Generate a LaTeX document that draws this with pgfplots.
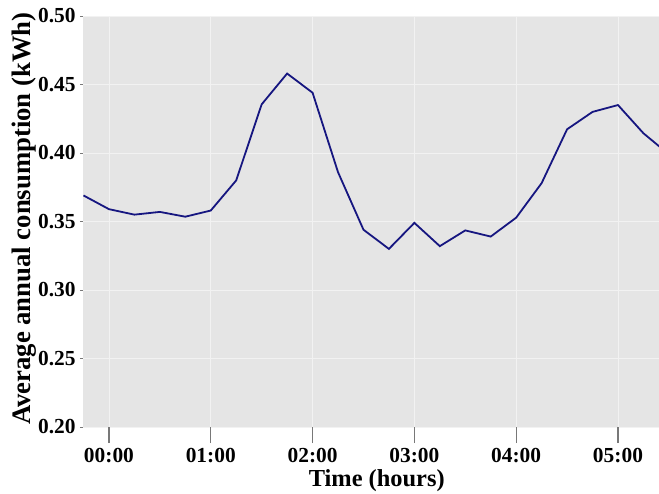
\documentclass[border=0pt]{standalone}
\usepackage{fontspec}
\setmainfont{Liberation Serif}
\usepackage{pgfplots}
\pgfplotsset{compat=1.18}
\definecolor{bg}{RGB}{229,229,229}
\definecolor{gridc}{RGB}{242,242,242}
\definecolor{navyline}{RGB}{22,22,128}
\definecolor{tickgray}{RGB}{120,120,120}
\begin{document}
\begin{tikzpicture}
\begin{axis}[
  name=ax,
  scale only axis,
  width=576bp, height=411bp,
  xmin=-0.255, xmax=5.403,
  ymin=0.20, ymax=0.50,
  axis background/.style={fill=bg},
  axis x line*=bottom, axis y line*=left,
  axis line style={draw=none},
  tick align=outside,
  xtick={0,1,2,3,4,5},
  xticklabels={00:00,01:00,02:00,03:00,04:00,05:00},
  ytick={0.20,0.25,0.30,0.35,0.40,0.45,0.50},
  yticklabel={\pgfmathprintnumber[fixed,fixed zerofill,precision=2]{\tick}},
  /pgf/number format/assume math mode=true,
  xtick style={draw=tickgray, line width=1.2bp, /pgfplots/major tick length=16bp},
  ytick style={draw=tickgray, line width=0.8bp, /pgfplots/major tick length=3bp},
  minor tick num=0,
  grid=major,
  major grid style={draw=gridc, line width=0.6bp},
  xticklabel style={font=\fontsize{21.5}{24}\selectfont\bfseries, inner sep=0pt, anchor=north, yshift=-17bp},
  yticklabel style={font=\fontsize{21.5}{24}\selectfont\bfseries, inner sep=0pt, anchor=east, xshift=-3bp},
  xlabel={Time (hours)},
  ylabel={Average annual consumption (kWh)},
  xlabel style={font=\fontsize{24.5}{28}\selectfont\bfseries, inner sep=0pt, at={(axis description cs:0.51,-0.104)}, anchor=north},
  ylabel style={font=\fontsize{26.8}{30}\selectfont\bfseries, inner sep=0pt, at={(axis description cs:-0.0799,0.507)}, anchor=south, rotate=0},
]
\addplot[color=navyline, line width=1.8bp] coordinates {
(-0.25,0.369) (0,0.359) (0.25,0.355) (0.5,0.357) (0.75,0.3535)
(1,0.358) (1.25,0.380) (1.5,0.4355) (1.75,0.458) (2,0.444)
(2.25,0.386) (2.5,0.344) (2.75,0.330) (3,0.349) (3.25,0.332)
(3.5,0.3435) (3.75,0.339) (4,0.3528) (4.25,0.378) (4.5,0.4173)
(4.75,0.430) (5,0.435) (5.25,0.4144) (5.5,0.399)
};
\end{axis}
\pgfresetboundingbox
\path[use as bounding box] ([shift={(-83bp,-67bp)}]ax.south west) rectangle ([shift={(0bp,16bp)}]ax.north east);
\end{tikzpicture}
\end{document}
